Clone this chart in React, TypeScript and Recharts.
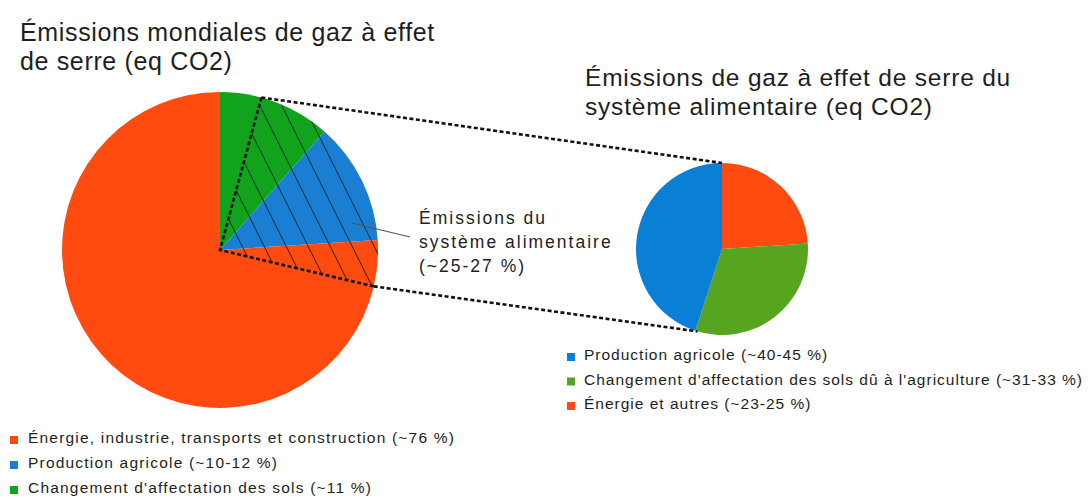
import React from 'react';
import { PieChart, Pie, Cell } from 'recharts';

// world GHG emissions (clockwise from 12 o'clock)
const worldNames = [
	"Changement d'affectation des sols",
	'Production agricole',
	'Énergie, industrie, transports et construction'
];
const worldValues = [11.5, 12.5, 76];
const worldColors = ['#10a31b', '#1a7fd2', '#ff4a10'];

// food system emissions (clockwise from 12 o'clock)
const foodNames = [
	'Énergie et autres',
	"Changement d'affectation des sols dû à l'agriculture",
	'Production agricole'
];
const foodValues = [24, 31, 45];
const foodColors = ['#ff4a10', '#56a41f', '#0a7fd6'];

const worldLegend = [
	'Énergie, industrie, transports et construction (~76 %)',
	'Production agricole (~10-12 %)',
	"Changement d'affectation des sols (~11 %)"
];
const worldLegendColors = ['#ff4a10', '#1a7fd2', '#10a31b'];

const foodLegend = [
	'Production agricole (~40-45 %)',
	"Changement d'affectation des sols dû à l'agriculture (~31-33 %)",
	'Énergie et autres (~23-25 %)'
];
const foodLegendColors = ['#0a7fd6', '#56a41f', '#ff4a10'];

const calloutLines = ['Émissions du', 'système alimentaire', '(~25-27 %)'];

const worldData = worldNames.map((name, i) => ({ name, value: worldValues[i] }));
const foodData = foodNames.map((name, i) => ({ name, value: foodValues[i] }));

const FONT = 'Liberation Sans, Arial, sans-serif';
const W_CX = 220;
const W_CY = 250;
const W_R = 158;
const F_CX = 722;
const F_CY = 249;
const F_R = 86;

// point on a circle, angle measured clockwise from 12 o'clock
const polar = (cx: number, cy: number, r: number, deg: number) => {
	const rad = (deg * Math.PI) / 180;
	return { x: cx + r * Math.sin(rad), y: cy - r * Math.cos(rad) };
};

const wedgeStart = 15.2;
const wedgeEnd = 103.3;

const App: React.FC = () => {
	const a = polar(W_CX, W_CY, W_R, wedgeStart);
	const b = polar(W_CX, W_CY, W_R, wedgeEnd);
	const fTop = polar(F_CX, F_CY, F_R, 0);
	const fBottom = polar(F_CX, F_CY, F_R, 196.6);
	const wedgePath = `M${W_CX},${W_CY} L${a.x},${a.y} A${W_R},${W_R} 0 0 1 ${b.x},${b.y} Z`;

	const hatch = [];
	for (let k = -4; k <= 9; k++) {
		const x0 = 244 + 22 * k;
		hatch.push(
			<line
				key={k}
				x1={x0 + (60 - W_CY) / 2}
				y1={60}
				x2={x0 + (320 - W_CY) / 2}
				y2={320}
				stroke="#1b2533"
				strokeWidth={1}
			/>
		);
	}

	const dots = { stroke: '#111', strokeWidth: 2.6, strokeDasharray: '4 2.5', fill: 'none' };

	return (
		<div style={{ position: 'absolute', left: 0, top: 0, width: 1088, height: 497, background: '#fff' }}>
			<PieChart width={1088} height={497} margin={{ top: 0, right: 0, bottom: 0, left: 0 }}>
				<Pie
					data={worldData}
					dataKey="value"
					cx={W_CX}
					cy={W_CY}
					outerRadius={W_R}
					startAngle={90}
					endAngle={-270}
					stroke="none"
					isAnimationActive={false}
				>
					{worldData.map((d, i) => (
						<Cell key={d.name} fill={worldColors[i]} />
					))}
				</Pie>
				<Pie
					data={foodData}
					dataKey="value"
					cx={F_CX}
					cy={F_CY}
					outerRadius={F_R}
					startAngle={90}
					endAngle={-270}
					stroke="none"
					isAnimationActive={false}
				>
					{foodData.map((d, i) => (
						<Cell key={d.name} fill={foodColors[i]} />
					))}
				</Pie>
			</PieChart>

			{/* annotations drawn over the chart */}
			<svg
				width={1088}
				height={497}
				style={{ position: 'absolute', left: 0, top: 0, pointerEvents: 'none' }}
			>
				<defs>
					<clipPath id="wedgeClip">
						<path d={wedgePath} />
					</clipPath>
				</defs>
				<g clipPath="url(#wedgeClip)">{hatch}</g>
				<path d={`M${a.x},${a.y} L${W_CX},${W_CY} L${b.x},${b.y}`} {...dots} />
				<line x1={a.x} y1={a.y} x2={fTop.x} y2={fTop.y} {...dots} />
				<line x1={b.x} y1={b.y} x2={fBottom.x} y2={fBottom.y} {...dots} />
				<line x1={352} y1={223} x2={410} y2={237} stroke="#555" strokeWidth={1.2} />

				<g fontFamily={FONT} fill="#1e1e1e">
					<text x={20} y={41} fontSize={25} letterSpacing={0.65}>
						Émissions mondiales de gaz à effet
					</text>
					<text x={20} y={70} fontSize={25} letterSpacing={0.65}>
						de serre (eq CO2)
					</text>
					<text x={585} y={86} fontSize={24.5} letterSpacing={0.8}>
						Émissions de gaz à effet de serre du
					</text>
					<text x={585} y={115} fontSize={24.5} letterSpacing={0.8}>
						système alimentaire (eq CO2)
					</text>
					{calloutLines.map((t, i) => (
						<text key={t} x={419} y={224 + i * 24} fontSize={17.5} letterSpacing={2}>
							{t}
						</text>
					))}
					{worldLegend.map((t, i) => (
						<g key={t}>
							<rect x={10} y={436 + i * 25} width={8} height={8} fill={worldLegendColors[i]} />
							<text x={28} y={443 + i * 25} fontSize={15.5} letterSpacing={1.2}>
								{t}
							</text>
						</g>
					))}
					{foodLegend.map((t, i) => (
						<g key={t}>
							<rect x={567} y={353 + i * 24.5} width={8} height={8} fill={foodLegendColors[i]} />
							<text x={584} y={360 + i * 24.5} fontSize={15.5} letterSpacing={1}>
								{t}
							</text>
						</g>
					))}
				</g>
			</svg>
		</div>
	);
};

export default App;
